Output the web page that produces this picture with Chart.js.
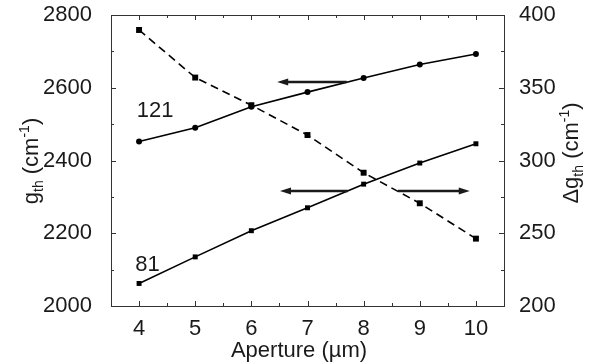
<!DOCTYPE html>
<html>
<head>
<meta charset="utf-8">
<script src="https://cdn.jsdelivr.net/npm/chart.js@4.4.1/dist/chart.umd.min.js"></script>
<style>
  html, body { margin: 0; padding: 0; background: #fff; }
  #wrap { width: 607px; height: 364px; }
</style>
</head>
<body>
<div id="wrap"><canvas id="c" width="607" height="364"></canvas></div>
<script>
// ---- data ----
const apertures = [4, 5, 6, 7, 8, 9, 10];
const gth121 = [2452, 2490, 2548, 2588, 2627, 2664, 2693];
const gth81  = [2062, 2135, 2207, 2270, 2335, 2393, 2446];
const deltaGth = [389.7, 357, 338, 317.5, 291.6, 270.6, 246.3];

const xTicks = [4, 5, 6, 7, 8, 9, 10];
const xMinorTicks = [4.5, 5.5, 6.5, 7.5, 8.5, 9.5];
const yLeftTicks = [2000, 2200, 2400, 2600, 2800];
const yLeftMinor = [2100, 2300, 2500, 2700];
const yRightTicks = [200, 250, 300, 350, 400];

const label121 = '121';
const label81 = '81';

const FONT = '"Liberation Sans", Arial, Helvetica, sans-serif';
const INK = '#1a1a1a';

function pts(xsArr, ysArr) { return xsArr.map((x, i) => ({ x: x, y: ysArr[i] })); }

function drawRich(ctx, segs, cx, cy, rot, baseOff) {
  ctx.save();
  let total = 0;
  segs.forEach(s => { ctx.font = s.size + 'px ' + FONT; s.w = ctx.measureText(s.t).width; total += s.w; });
  ctx.translate(cx, cy);
  ctx.rotate(rot);
  ctx.fillStyle = INK;
  ctx.textBaseline = 'alphabetic';
  ctx.textAlign = 'left';
  let x = -total / 2;
  segs.forEach(s => {
    ctx.font = s.size + 'px ' + FONT;
    ctx.fillText(s.t, x, baseOff + (s.dy || 0));
    x += s.w;
  });
  ctx.restore();
}

function arrow(ctx, x1, y, x2) {
  const dir = Math.sign(x2 - x1);
  const head = 11, hw = 3.5;
  ctx.save();
  ctx.strokeStyle = INK; ctx.fillStyle = INK; ctx.lineWidth = 2.5;
  ctx.beginPath(); ctx.moveTo(x1, y); ctx.lineTo(x2 - dir * head * 0.8, y); ctx.stroke();
  ctx.beginPath();
  ctx.moveTo(x2, y);
  ctx.lineTo(x2 - dir * head, y - hw);
  ctx.lineTo(x2 - dir * head, y + hw);
  ctx.closePath(); ctx.fill();
  ctx.restore();
}

const decor = {
  id: 'decor',
  afterDraw(chart) {
    const ctx = chart.ctx;
    const xs = chart.scales.x, yl = chart.scales.y;
    const { left, right, top, bottom } = chart.chartArea;
    ctx.save();
    ctx.strokeStyle = '#333';
    ctx.lineWidth = 1;
    ctx.strokeRect(Math.round(left) + 0.5, Math.round(top) + 0.5, Math.round(right - left), Math.round(bottom - top));
    const MAJ = 5, MIN = 3;
    ctx.beginPath();
    xTicks.forEach(v => { const p = Math.round(xs.getPixelForValue(v)) + 0.5;
      ctx.moveTo(p, bottom); ctx.lineTo(p, bottom - MAJ); ctx.moveTo(p, top); ctx.lineTo(p, top + MAJ); });
    xMinorTicks.forEach(v => { const p = Math.round(xs.getPixelForValue(v)) + 0.5;
      ctx.moveTo(p, bottom); ctx.lineTo(p, bottom - MIN); ctx.moveTo(p, top); ctx.lineTo(p, top + MIN); });
    yLeftTicks.forEach(v => { const p = Math.round(yl.getPixelForValue(v)) + 0.5;
      ctx.moveTo(left, p); ctx.lineTo(left + MAJ, p); ctx.moveTo(right, p); ctx.lineTo(right - MAJ, p); });
    yLeftMinor.forEach(v => { const p = Math.round(yl.getPixelForValue(v)) + 0.5;
      ctx.moveTo(left, p); ctx.lineTo(left + MIN, p); ctx.moveTo(right, p); ctx.lineTo(right - MIN, p); });
    ctx.stroke();
    ctx.restore();

    // arrows
    arrow(ctx, xs.getPixelForValue(7.7), yl.getPixelForValue(2616), xs.getPixelForValue(6.46));
    arrow(ctx, xs.getPixelForValue(7.72), yl.getPixelForValue(2316), xs.getPixelForValue(6.51));
    arrow(ctx, xs.getPixelForValue(8.61), yl.getPixelForValue(2316), xs.getPixelForValue(9.89));

    // series labels
    ctx.save();
    ctx.fillStyle = INK;
    ctx.font = '22px ' + FONT;
    ctx.textAlign = 'left';
    ctx.textBaseline = 'alphabetic';
    ctx.fillText(label121, xs.getPixelForValue(3.96), yl.getPixelForValue(2520));
    ctx.fillText(label81, xs.getPixelForValue(3.93), yl.getPixelForValue(2095));
    ctx.restore();

    // axis titles
    drawRich(ctx, [{ t: 'Aperture (µm)', size: 22 }], 299, 357, 0, 0);
    drawRich(ctx, [
      { t: 'g', size: 22 }, { t: 'th', size: 14, dy: 5 }, { t: ' (cm', size: 22 },
      { t: '-1', size: 14, dy: -9 }, { t: ')', size: 22 }
    ], 32, 161, -Math.PI / 2, 6);
    drawRich(ctx, [
      { t: 'Δg', size: 22 }, { t: 'th', size: 14, dy: 5 }, { t: ' (cm', size: 22 },
      { t: '-1', size: 14, dy: -9 }, { t: ')', size: 22 }
    ], 572, 153, -Math.PI / 2, 6);
  }
};

const tickFont = { family: FONT, size: 22 };
const plain = v => String(v);

new Chart(document.getElementById('c'), {
  type: 'line',
  data: {
    datasets: [
      { data: pts(apertures, gth121), yAxisID: 'y', borderColor: '#000', backgroundColor: '#000',
        borderWidth: 1.6, pointStyle: 'circle', pointRadius: 3, pointBorderWidth: 0, fill: false, tension: 0 },
      { data: pts(apertures, gth81), yAxisID: 'y', borderColor: '#000', backgroundColor: '#000',
        borderWidth: 1.6, pointStyle: 'rect', pointRadius: 3.5, pointBorderWidth: 0, fill: false, tension: 0 },
      { data: pts(apertures, deltaGth), yAxisID: 'y1', borderColor: '#000', backgroundColor: '#000',
        borderWidth: 1.6, borderDash: [8, 5], pointStyle: 'rect', pointRadius: 4.2, pointBorderWidth: 0, fill: false, tension: 0 }
    ]
  },
  options: {
    responsive: false,
    animation: false,
    devicePixelRatio: 1,
    layout: { padding: { top: 15, left: 0, right: 0, bottom: 0 } },
    plugins: { legend: { display: false }, tooltip: { enabled: false } },
    scales: {
      x: {
        type: 'linear', min: 3.5, max: 10.5,
        grid: { display: false }, border: { display: false },
        afterBuildTicks: s => { s.ticks = xTicks.map(v => ({ value: v })); },
        afterFit: s => { s.height = 58; s.paddingLeft = 0; s.paddingRight = 0; },
        ticks: { font: tickFont, color: INK, padding: 2, maxRotation: 0, callback: plain }
      },
      y: {
        type: 'linear', position: 'left', min: 2000, max: 2800,
        grid: { display: false }, border: { display: false },
        afterBuildTicks: s => { s.ticks = yLeftTicks.map(v => ({ value: v })); },
        afterFit: s => { s.width = 111; s.paddingTop = 0; s.paddingBottom = 0; },
        ticks: { font: tickFont, color: INK, padding: 11, callback: plain }
      },
      y1: {
        type: 'linear', position: 'right', min: 200, max: 400,
        grid: { display: false }, border: { display: false },
        afterBuildTicks: s => { s.ticks = yRightTicks.map(v => ({ value: v })); },
        afterFit: s => { s.width = 103; s.paddingTop = 0; s.paddingBottom = 0; },
        ticks: { font: tickFont, color: INK, padding: 7, callback: plain }
      }
    }
  },
  plugins: [decor]
});
</script>
</body>
</html>
